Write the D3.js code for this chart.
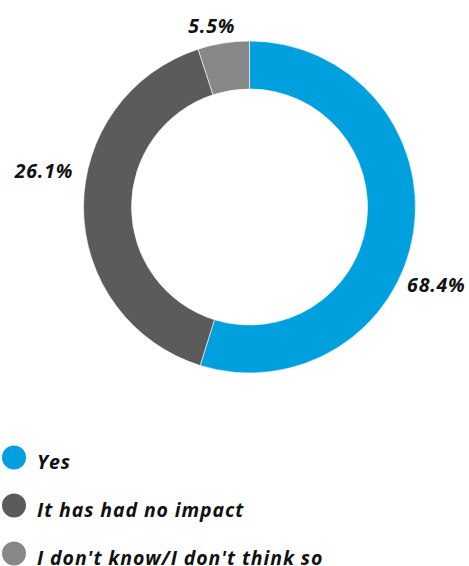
<!DOCTYPE html>
<html>
<head>
<meta charset="utf-8">
<script src="https://cdn.jsdelivr.net/npm/d3@7"></script>
<style>
  body { margin: 0; background: #fff; }
  text { font-family: "Open Sans", sans-serif; font-weight: bold; font-style: italic; fill: #111; }
</style>
</head>
<body>
<script>
// data
const categories = ["Yes", "It has had no impact", "I don't know/I don't think so"];
// printed percentages
const labelValues = [68.4, 26.1, 5.5];
// slice sizes as drawn in the original (they don't follow the printed numbers)
const sliceValues = [54.8, 40.2, 5.0];
const colors = ["#00A0DF", "#5B5B5B", "#878787"];

// layout
const width = 469, height = 566;
const cx = 249.5, cy = 207;
const outerR = 166, innerR = 118;
const labelR = 190;
// nudges so labels sit where the original put them
const labelNudge = [[-1, 56], [-15.5, -30.5], [-8, 14]];

const svg = d3.select("body").append("svg")
    .attr("width", width)
    .attr("height", height);

const pie = d3.pie().sort(null).value(d => d)(sliceValues);

const arc = d3.arc().innerRadius(innerR).outerRadius(outerR);
const labelArc = d3.arc().innerRadius(labelR).outerRadius(labelR);

const g = svg.append("g").attr("transform", "translate(" + cx + "," + cy + ")");

g.selectAll("path")
  .data(pie)
  .enter().append("path")
    .attr("d", arc)
    .attr("fill", (d, i) => colors[i])
    .attr("stroke", "#fff")
    .attr("stroke-width", 0.6);

g.selectAll(".lbl")
  .data(pie)
  .enter().append("text")
    .attr("class", "lbl")
    .attr("text-anchor", "middle")
    .attr("font-size", 19.5)
    .attr("letter-spacing", 0.8)
    .attr("x", (d, i) => labelArc.centroid(d)[0] + labelNudge[i][0])
    .attr("y", (d, i) => labelArc.centroid(d)[1] + labelNudge[i][1])
    .text((d, i) => labelValues[i].toFixed(1) + "%");

// legend
const legendY = d3.scalePoint().domain(categories).range([469, 565]);

const leg = svg.selectAll(".leg")
  .data(categories)
  .enter().append("g")
    .attr("class", "leg")
    .attr("transform", d => "translate(0," + legendY(d) + ")");

leg.append("circle")
    .attr("cx", 14)
    .attr("cy", -11.5)
    .attr("r", 12)
    .attr("fill", (d, i) => colors[i]);

leg.append("text")
    .attr("x", 37)
    .attr("y", 0)
    .attr("font-size", 19.5)
    .attr("letter-spacing", 0.9)
    .text(d => d);
</script>
</body>
</html>
